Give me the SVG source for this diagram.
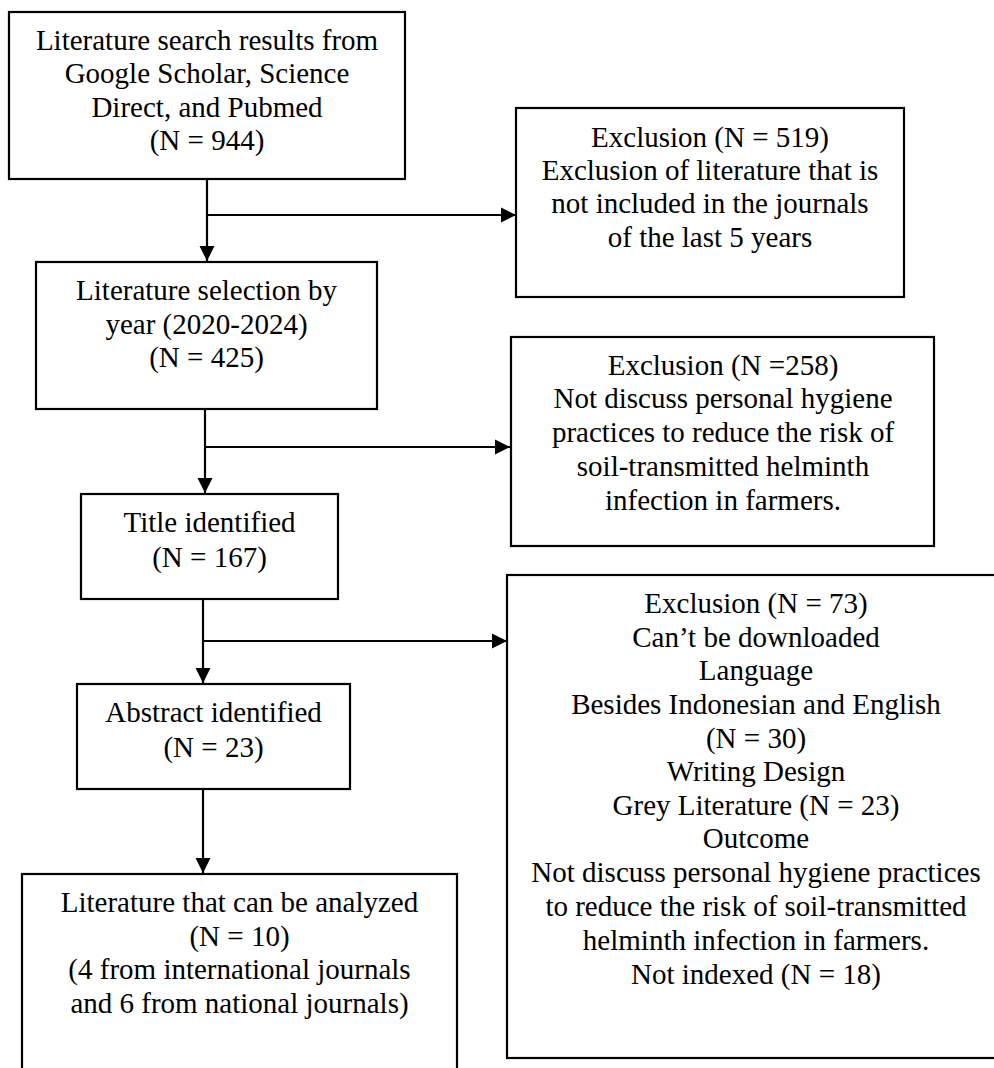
<svg xmlns="http://www.w3.org/2000/svg" width="994" height="1068" viewBox="0 0 994 1068">
<style>
.box{fill:#fff;stroke:#000;stroke-width:2.2}
.t{font-family:"Liberation Serif","Times New Roman",serif;font-size:29px;fill:#000;text-anchor:middle}
.c{fill:none;stroke:#000;stroke-width:2.2}
</style>
<defs>
<marker id="ah" markerUnits="userSpaceOnUse" markerWidth="16" markerHeight="16" refX="15" refY="7.5" orient="auto" overflow="visible">
<path d="M0,0 L15,7.5 L0,15 z" fill="#000"/>
</marker>
</defs>
<rect width="994" height="1068" fill="#fff"/>
<g id="connectors">
<line class="c" x1="207" y1="180" x2="207" y2="261" marker-end="url(#ah)"/>
<line class="c" x1="207" y1="215" x2="516" y2="215" marker-end="url(#ah)"/>
<line class="c" x1="205" y1="410" x2="205" y2="493" marker-end="url(#ah)"/>
<line class="c" x1="205" y1="447" x2="510" y2="447" marker-end="url(#ah)"/>
<line class="c" x1="203" y1="600" x2="203" y2="683" marker-end="url(#ah)"/>
<line class="c" x1="203" y1="641" x2="507" y2="641" marker-end="url(#ah)"/>
<line class="c" x1="203" y1="790" x2="203" y2="873" marker-end="url(#ah)"/>
</g>
<g id="search">
<rect class="box" x="9" y="12" width="396" height="167"/>
<text class="t" x="207" y="50">Literature search results from</text>
<text class="t" x="207" y="83">Google Scholar, Science</text>
<text class="t" x="207" y="117">Direct, and Pubmed</text>
<text class="t" x="207" y="150">(N = 944)</text>
</g>
<g id="excl519">
<rect class="box" x="516" y="108" width="388" height="189"/>
<text class="t" x="710" y="147">Exclusion (N = 519)</text>
<text class="t" x="710" y="180">Exclusion of literature that is</text>
<text class="t" x="710" y="213">not included in the journals</text>
<text class="t" x="710" y="247">of the last 5 years</text>
</g>
<g id="selection">
<rect class="box" x="36" y="262" width="341" height="147"/>
<text class="t" x="206.5" y="300">Literature selection by</text>
<text class="t" x="206.5" y="334">year (2020-2024)</text>
<text class="t" x="206.5" y="367">(N = 425)</text>
</g>
<g id="excl258">
<rect class="box" x="511" y="337" width="423" height="209"/>
<text class="t" x="723" y="375">Exclusion (N =258)</text>
<text class="t" x="723" y="408">Not discuss personal hygiene</text>
<text class="t" x="723" y="442">practices to reduce the risk of</text>
<text class="t" x="723" y="476">soil-transmitted helminth</text>
<text class="t" x="723" y="510">infection in farmers.</text>
</g>
<g id="title">
<rect class="box" x="81" y="494" width="257" height="105"/>
<text class="t" x="209.5" y="532">Title identified</text>
<text class="t" x="209.5" y="567">(N = 167)</text>
</g>
<g id="excl73">
<rect class="box" x="507" y="575" width="500" height="483"/>
<text class="t" x="756" y="613">Exclusion (N = 73)</text>
<text class="t" x="756" y="647">Can’t be downloaded</text>
<text class="t" x="756" y="680">Language</text>
<text class="t" x="756" y="714">Besides Indonesian and English</text>
<text class="t" x="756" y="748">(N = 30)</text>
<text class="t" x="756" y="781">Writing Design</text>
<text class="t" x="756" y="815">Grey Literature (N = 23)</text>
<text class="t" x="756" y="848">Outcome</text>
<text class="t" x="756" y="882">Not discuss personal hygiene practices</text>
<text class="t" x="756" y="916">to reduce the risk of soil-transmitted</text>
<text class="t" x="756" y="950">helminth infection in farmers.</text>
<text class="t" x="756" y="984">Not indexed (N = 18)</text>
</g>
<g id="abstract">
<rect class="box" x="77" y="684" width="273" height="105"/>
<text class="t" x="213.5" y="722">Abstract identified</text>
<text class="t" x="213.5" y="757">(N = 23)</text>
</g>
<g id="analyzed">
<rect class="box" x="22" y="874" width="435" height="210"/>
<text class="t" x="239.5" y="912">Literature that can be analyzed</text>
<text class="t" x="239.5" y="946">(N = 10)</text>
<text class="t" x="239.5" y="979">(4 from international journals</text>
<text class="t" x="239.5" y="1013">and 6 from national journals)</text>
</g>
</svg>
